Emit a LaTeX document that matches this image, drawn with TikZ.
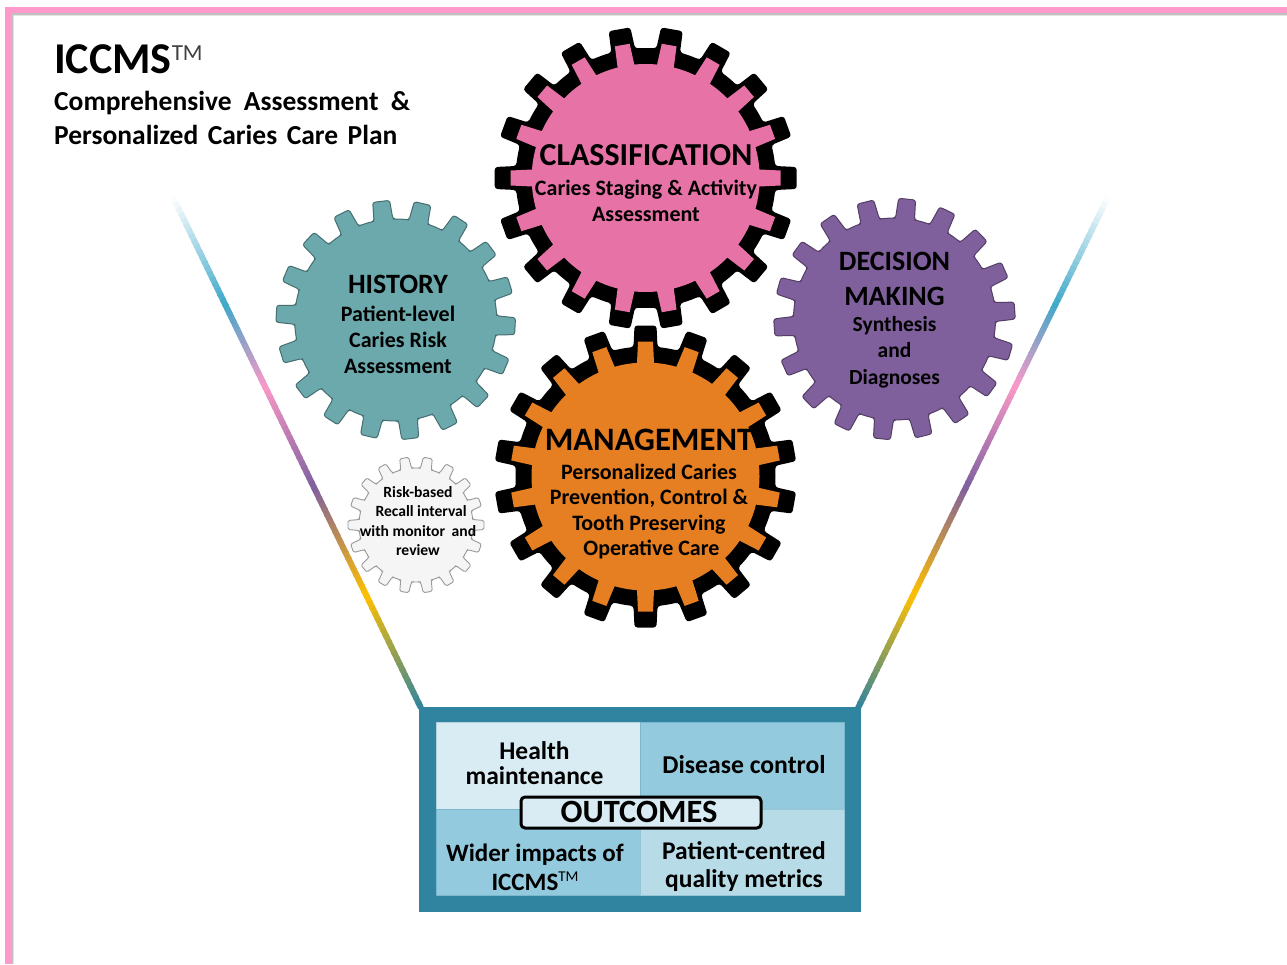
\documentclass[tikz,border=0pt]{standalone}
\usepackage{fontspec}
\setmainfont{Carlito}
\definecolor{pinkbar}{HTML}{FF99CC}
\definecolor{gpink}{HTML}{E672A6}
\definecolor{gorange}{HTML}{E67E22}
\definecolor{gteal}{HTML}{6BA9AD}
\definecolor{gpurple}{HTML}{80609C}
\definecolor{boxteal}{HTML}{31849F}
\definecolor{cellA}{HTML}{DAECF3}
\definecolor{cellB}{HTML}{94CADD}
\definecolor{cellC}{HTML}{B8DBE8}
\definecolor{stA}{HTML}{FFFFFF}
\definecolor{stB}{HTML}{3FA9C9}
\definecolor{stC}{HTML}{FA99C8}
\definecolor{stD}{HTML}{8060A0}
\definecolor{stE}{HTML}{FFC000}
\definecolor{stF}{HTML}{31849F}
% gear{cx}{cy}{root r}{tip r}{root halfwidth}{tip halfwidth}{start angle}{style}
\newcommand{\gearshape}[8]{%
  \pgfmathsetmacro{\gd}{asin(#5/#3)}%
  \pgfmathsetmacro{\gs}{(20-2*\gd)/6}%
  \path[#8] ({#1+#4*cos(#7)},{#2+#4*sin(#7)})
  \foreach \k [evaluate=\k as \ga using #7+20*\k, evaluate=\k as \gb using #7+20*\k+20] in {0,...,17}{%
    -- ({#1+#4*cos(\ga)-#6*sin(\ga)},{#2+#4*sin(\ga)+#6*cos(\ga)})
    -- ({#1+#3*cos(\ga+\gd)},{#2+#3*sin(\ga+\gd)})
    \foreach \j in {1,...,6}{ -- ({#1+#3*cos(\ga+\gd+\j*\gs)},{#2+#3*sin(\ga+\gd+\j*\gs)}) }
    -- ({#1+#4*cos(\gb)+#6*sin(\gb)},{#2+#4*sin(\gb)-#6*cos(\gb)})
  } -- cycle;}
\newcommand{\funnelline}[4]{%
  \foreach \ta/\tb/\ca/\cb in {0/.21/stA/stB,.21/.37/stB/stC,.37/.567/stC/stD,.567/.78/stD/stE,.78/1/stE/stF}{%
    \foreach \s in {0,...,19}{%
      \pgfmathsetmacro{\ua}{\ta+(\tb-\ta)*\s/20}%
      \pgfmathsetmacro{\ub}{min(1,\ta+(\tb-\ta)*(\s+1.3)/20)}%
      \pgfmathsetmacro{\pc}{100-100*(\s+.5)/20}%
      \draw[line width=6pt,color=\ca!\pc!\cb]
        ({#1+(#3-#1)*\ua},{#2+(#4-#2)*\ua}) -- ({#1+(#3-#1)*\ub},{#2+(#4-#2)*\ub});
    }}}
\newcommand{\tmark}[2]{\raisebox{#2pt}{\fontsize{#1}{#1}\selectfont\mdseries TM}}
\tikzset{
  head/.style={font=\bfseries\fontsize{#1}{#1}\selectfont,inner sep=0pt,align=center},
  body/.style 2 args={font=\bfseries\fontsize{#1}{#2}\selectfont,inner sep=0pt,align=center},
  cell/.style={draw=#1!75!boxteal,line width=.8pt},
}
\begin{document}
\begin{tikzpicture}[x=1pt,y=-1pt,line join=round]
\useasboundingbox (0,0) rectangle (1287,964);
\fill[white] (0,0) rectangle (1287,964);
% frame
\fill[black!10] (11,13) rectangle (1287,16);
\fill[black!10] (11,13) rectangle (14,964);
\fill[black!25] (11,13) rectangle (1287,14.5);
\fill[black!25] (11,13) rectangle (12.5,964);
\fill[pinkbar] (5,7) rectangle (1287,13);
\fill[pinkbar] (5,7) rectangle (11,964);
% funnel
\funnelline{173}{197}{421}{708}
\funnelline{1108}{197}{858}{708}
% gears
\gearshape{395.7}{320}{101}{119.5}{9.5}{8.5}{3}{fill=gteal,draw=black!35!gteal,line width=1pt,rounded corners=2.5pt}
\gearshape{894.5}{319}{101}{120.5}{9.5}{8.5}{-4}{fill=gpurple,draw=black!35!gpurple,line width=1pt,rounded corners=2.5pt}
\gearshape{416}{525}{57}{68}{5.5}{4.5}{0}{fill=black!4,draw=black!40,line width=.9pt,rounded corners=1.5pt}
\gearshape{645.7}{178}{130}{151}{12}{11}{0}{fill=black,rounded corners=3pt}
\gearshape{645.7}{178}{114}{135}{8.5}{7.5}{0}{fill=gpink}
\gearshape{645.5}{476.5}{130}{151}{12}{11}{10}{fill=black,rounded corners=3pt}
\gearshape{645.5}{476.5}{114}{135}{8.5}{7.5}{10}{fill=gorange}
% title
\node[head=44,anchor=base west] (title) at (54,73.5) {ICCMS\textcolor{black!75}{\tmark{23}{13}}};
\node[body={27.5}{34.5},anchor=north west,align=left] (subtitle) at (54,91)
  {Comprehensive\hspace{.22em} Assessment\hspace{.22em} \&\\Personalized\hspace{.12em} Caries\hspace{.12em} Care\hspace{.12em} Plan};
% labels
\node[head=32] (classh) at (646,155.5) {CLASSIFICATION};
\node[body={22}{25.5}] (classb) at (646,201) {Caries Staging \& Activity\\Assessment};
\node[head=28] (histh) at (398,284) {HISTORY};
\node[body={22}{26}] (histb) at (398,340) {Patient-level\\Caries Risk\\Assessment};
\node[body={28}{35}] (dech) at (894.5,278.5) {DECISION\\MAKING};
\node[body={21.5}{26.5}] (decb) at (894.5,352) {Synthesis\\and\\Diagnoses};
\node[head=32.7] (mgmth) at (649,439.5) {MANAGEMENT};
\node[body={22}{25.6}] (mgmtb) at (649,511.5) {Personalized Caries\\Prevention, Control \&\\Tooth Preserving\\\hspace*{5pt}Operative Care};
\node[body={15.6}{19.2}] (risk) at (418,521) {Risk-based\\\hspace{.4em}Recall interval\\with monitor\hspace{.2em} and\\review};
% outcomes
\fill[boxteal] (419,707) rectangle (861,912);
\draw[cell=cellA,fill=cellA] (436,722) rectangle (640,809);
\draw[cell=cellB,fill=cellB] (640,722) rectangle (844,809);
\draw[cell=cellB,fill=cellB] (436,809) rectangle (640,895);
\draw[cell=cellC,fill=cellC] (640,809) rectangle (844,895);
\node[body={25.5}{25}] (health) at (534.5,763.5) {Health\\maintenance};
\node[head=25.7] (disease) at (744,765) {Disease control};
\node[body={25}{29}] (wider) at (535,867.5) {Wider impacts of\\ICCMS\tmark{15}{9}};
\node[body={25.5}{27.5}] (patient) at (744,866.5) {Patient-centred\\quality metrics};
\draw[draw=black,fill=cellA,line width=3pt,rounded corners=4pt] (521,797) rectangle (761,828);
\node[head=32.5] (outc) at (639,812) {OUTCOMES};
\end{tikzpicture}
\end{document}
